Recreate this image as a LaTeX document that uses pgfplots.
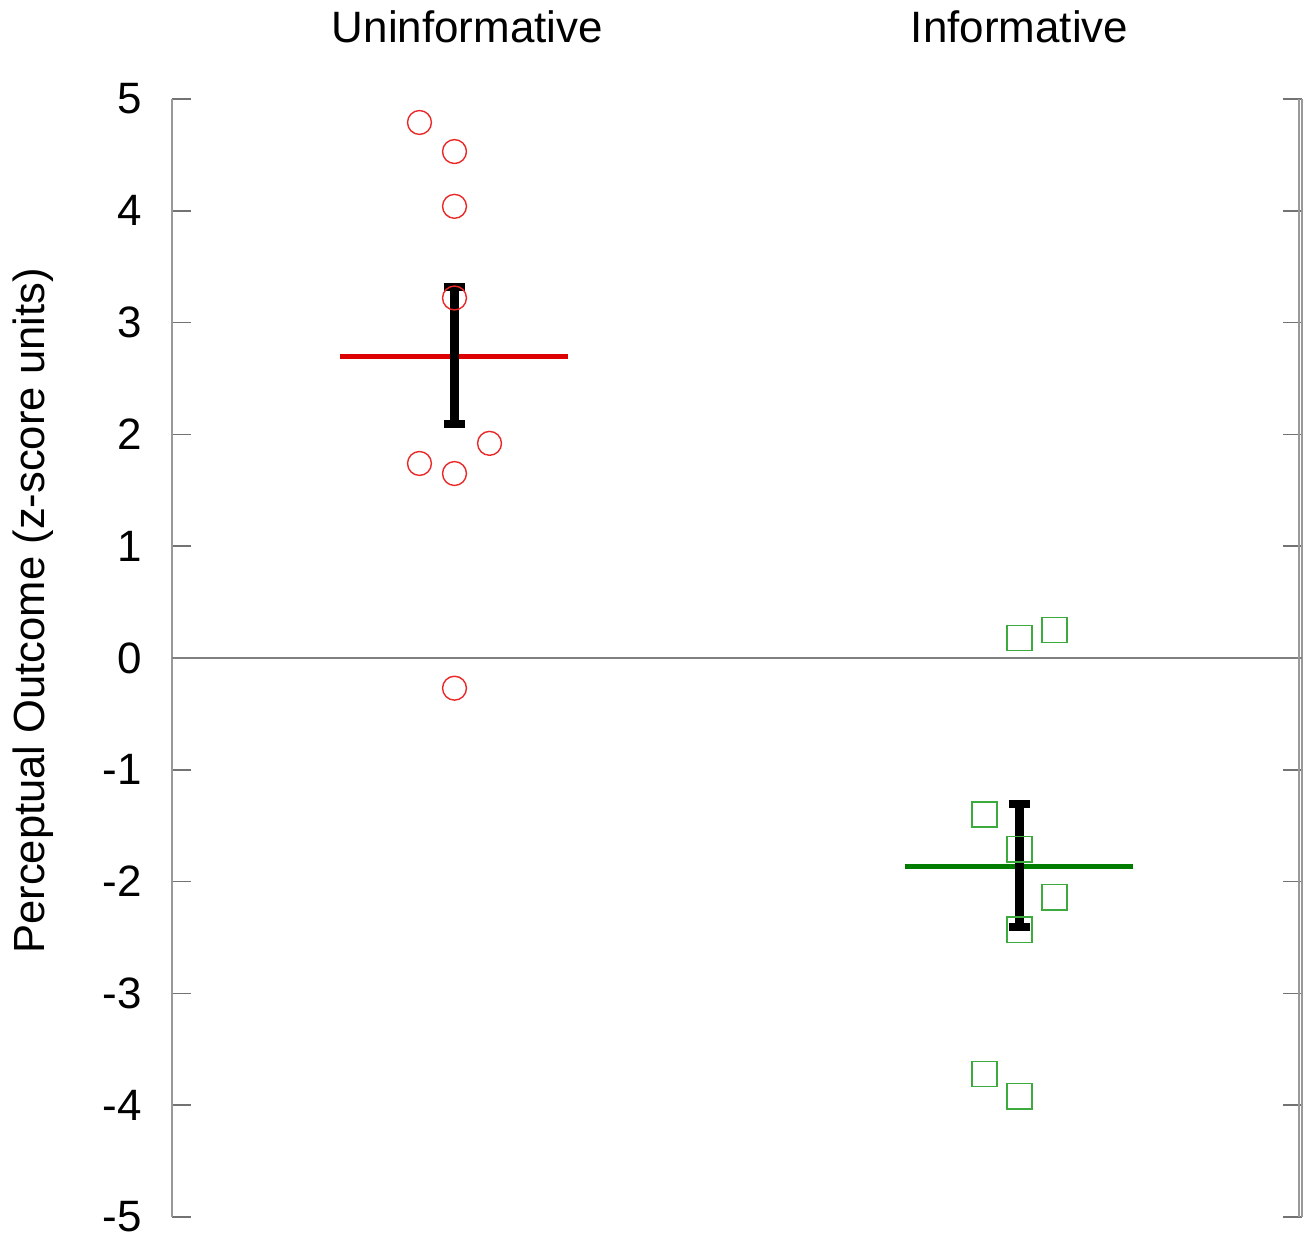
\documentclass[border=0pt]{standalone}
\usepackage{pgfplots}
\pgfplotsset{compat=1.18}
\usepackage{fontspec}
\setmainfont{Liberation Sans}
\definecolor{ptred}{RGB}{235,40,40}
\definecolor{ptgreen}{RGB}{60,170,60}
\definecolor{mred}{RGB}{220,0,0}
\definecolor{mgreen}{RGB}{0,125,0}
\begin{document}
\begin{tikzpicture}
\begin{axis}[
  scale only axis, width=113mm, height=111.8mm,
  xmin=0.5, xmax=2.5, ymin=-5, ymax=5,
  separate axis lines,
  x axis line style={draw=none},
  y axis line style={draw=gray!80, line width=0.5pt},
  xtick={1,2},
  xticklabels={\hspace*{2.6mm}Uninformative,Informative},
  xticklabel pos=upper,
  x tick style={draw=none},
  xticklabel style={font=\fontsize{12.5}{15}\selectfont, anchor=center, yshift=7.2mm},
  ytick={-5,-4,-3,-2,-1,0,1,2,3,4,5},
  yticklabels={-5,-4,-3,-2,-1,0,1,2,3,4,5},
  ytick pos=both,
  tick align=inside,
  major tick length=1.9mm,
  y tick style={draw=gray!90!black, line width=0.5pt},
  yticklabel style={font=\fontsize{12.5}{15}\selectfont, xshift=-1.8mm},
  every axis y label/.style={at={(rel axis cs:0,0.542)}, xshift=-13.9mm, rotate=90, anchor=center, font=\fontsize{12.4}{15}\selectfont},
  ylabel={Perceptual Outcome (z-score units)},
  clip=false,
]
% zero line
\addplot[gray, line width=0.5pt] coordinates {(0.5,0) (2.5,0)};
% individual points
\addplot[only marks, mark=o, mark size=3.4pt, mark options={ptred, line width=0.4pt}] coordinates {
 (0.938,4.79) (1,4.53) (1,4.04) (1,3.22) (1.062,1.92) (0.938,1.74) (1,1.65) (1,-0.27)};
\addplot[only marks, mark=square, mark size=3.6pt, mark options={ptgreen, line width=0.4pt}] coordinates {
 (2,0.18) (2.062,0.25) (1.938,-1.40) (2,-1.71) (2.062,-2.14) (2,-2.43) (1.938,-3.72) (2,-3.92)};
% means
\addplot[mred, line width=1.4pt] coordinates {(0.797,2.70) (1.201,2.70)};
\addplot[mgreen, line width=1.4pt] coordinates {(1.797,-1.865) (2.201,-1.865)};
% error bars
\addplot[draw=none, mark=none, error bars/.cd, y dir=both, y explicit,
  error bar style={black, line width=2.5pt},
  error mark options={rotate=90, mark size=3.1pt, line width=2.3pt, black}]
  coordinates {(1,2.705) +- (0,0.615) (2,-1.856) +- (0,0.55)};
% second right spine line
\draw[gray!80, line width=0.5pt] ([xshift=-0.3mm]rel axis cs:1,0) -- ([xshift=-0.3mm]rel axis cs:1,1);
\end{axis}
\pgfresetboundingbox
\useasboundingbox (-17.2mm,-2.1mm) rectangle (113.6mm,121.7mm);
\end{tikzpicture}
\end{document}
